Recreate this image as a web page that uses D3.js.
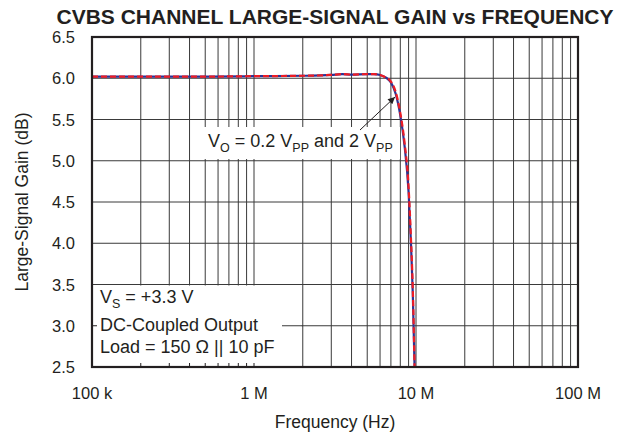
<!DOCTYPE html>
<html>
<head>
<meta charset="utf-8">
<script src="https://cdn.jsdelivr.net/npm/d3@7"></script>
<style>
  body { margin: 0; background: #fff; }
  text { font-family: "Liberation Sans", Arial, Helvetica, sans-serif; fill: #231f20; }
</style>
</head>
<body>
<div id="chart"></div>
<script>
// frequency in Hz, gain in dB
const freq = [1e5, 2e5, 5e5, 1e6, 2e6, 3e6, 3.5e6, 4e6, 5e6, 5.5e6, 6e6, 6.5e6, 7e6, 7.5e6, 8e6, 8.5e6, 9e6, 9.3e6, 9.55e6, 9.8e6];
const gain02 = [6.02, 6.02, 6.02, 6.025, 6.03, 6.04, 6.05, 6.045, 6.05, 6.05, 6.04, 6.01, 5.95, 5.81, 5.55, 5.18, 4.62, 4.02, 3.4, 2.5];
const gain2 = [6.02, 6.02, 6.02, 6.025, 6.03, 6.04, 6.05, 6.045, 6.05, 6.05, 6.04, 6.01, 5.96, 5.83, 5.58, 5.22, 4.68, 4.08, 3.46, 2.5];
const yTicks = [2.5, 3.0, 3.5, 4.0, 4.5, 5.0, 5.5, 6.0, 6.5];
const xTickVals = [1e5, 1e6, 1e7, 1e8];
const xTickLabels = ["100 k", "1 M", "10 M", "100 M"];

const W = 631, H = 433;
const m = {left: 92, right: 53, top: 37, bottom: 66};
const iw = W - m.left - m.right, ih = H - m.top - m.bottom;

const svg = d3.select("#chart").append("svg").attr("width", W).attr("height", H);

const x = d3.scaleLog().domain([1e5, 1e8]).range([0, iw]);
const y = d3.scaleLinear().domain([2.5, 6.5]).range([ih, 0]);

const g = svg.append("g").attr("transform", "translate(" + m.left + "," + m.top + ")");

// grid
const minor = [];
[1e5, 1e6, 1e7].forEach(function(d) { for (let k = 1; k <= 9; k++) minor.push(d * k); });
g.selectAll(".vg").data(minor.slice(1)).enter().append("line")
  .attr("x1", d => x(d)).attr("x2", d => x(d)).attr("y1", 0).attr("y2", ih)
  .attr("stroke", "#3a3a3a").attr("stroke-width", 1);
g.selectAll(".hg").data(yTicks.slice(1, -1)).enter().append("line")
  .attr("x1", 0).attr("x2", iw).attr("y1", d => y(d)).attr("y2", d => y(d))
  .attr("stroke", "#3a3a3a").attr("stroke-width", 1);

// condition box (white, covers grid up to the 2 M line)
g.append("rect").attr("x", 1).attr("y", y(3.5) + 1).attr("width", x(2e6) - 2).attr("height", ih - y(3.5) - 1).attr("fill", "#fff");
// small ticks that show through the box
g.selectAll(".bt").data(minor.filter(d => d > 1e5 && d < 2e6)).enter().append("line")
  .attr("x1", d => x(d)).attr("x2", d => x(d)).attr("y1", ih).attr("y2", ih - 4)
  .attr("stroke", "#231f20");
g.append("line").attr("x1", 0).attr("x2", 5).attr("y1", y(3.0)).attr("y2", y(3.0)).attr("stroke", "#231f20");
g.append("line").attr("x1", 190).attr("x2", x(2e6)).attr("y1", y(3.0)).attr("y2", y(3.0)).attr("stroke", "#3a3a3a");

const fs = 18, sub = 12.5;
const cond = g.append("text").attr("font-size", fs).attr("x", 8).attr("y", 303 - m.top);
cond.append("tspan").text("V");
cond.append("tspan").attr("font-size", sub).attr("dy", 5).text("S");
cond.append("tspan").attr("dy", -5).text(" = +3.3 V");
g.append("text").attr("font-size", fs).attr("x", 8).attr("y", 331 - m.top).text("DC-Coupled Output");
g.append("text").attr("font-size", fs).attr("x", 8).attr("y", 353 - m.top).text("Load = 150 \u03A9 || 10 pF");

// annotation box
g.append("rect").attr("x", 112).attr("y", 90).attr("width", 196).attr("height", 32).attr("fill", "#fff");
const ann = g.append("text").attr("font-size", fs).attr("x", 116).attr("y", 147 - m.top);
ann.append("tspan").text("V");
ann.append("tspan").attr("font-size", sub).attr("dy", 5).text("O");
ann.append("tspan").attr("dy", -5).text(" = 0.2 V");
ann.append("tspan").attr("font-size", sub).attr("dy", 5).text("PP");
ann.append("tspan").attr("dy", -5).text(" and 2 V");
ann.append("tspan").attr("font-size", sub).attr("dy", 5).text("PP");

// arrow
svg.append("defs").append("marker").attr("id", "ah").attr("viewBox", "0 0 10 10")
  .attr("refX", 10).attr("refY", 5).attr("markerWidth", 13).attr("markerHeight", 7)
  .attr("markerUnits", "userSpaceOnUse").attr("orient", "auto")
  .append("path").attr("d", "M0,0 L10,5 L0,10 z").attr("fill", "#231f20");
g.append("line").attr("x1", 268).attr("y1", 93).attr("x2", 303).attr("y2", 60)
  .attr("stroke", "#231f20").attr("stroke-width", 1).attr("marker-end", "url(#ah)");

// curves
const line = d3.line().x((d, i) => x(freq[i])).y(d => y(d)).curve(d3.curveMonotoneX);
g.append("path").attr("d", line(gain02)).attr("fill", "none").attr("stroke", "#2e3192").attr("stroke-width", 2.2);
g.append("path").attr("d", line(gain2)).attr("fill", "none").attr("stroke", "#ed1c24").attr("stroke-width", 2.2)
  .attr("stroke-dasharray", "6,3");

// frame
g.append("rect").attr("x", 0).attr("y", 0).attr("width", iw).attr("height", ih)
  .attr("fill", "none").attr("stroke", "#231f20").attr("stroke-width", 2.2);

// axes labels
g.selectAll(".yl").data(yTicks).enter().append("text")
  .attr("x", -17).attr("y", d => y(d) + 6).attr("text-anchor", "end").attr("font-size", 16.5)
  .text(d => d.toFixed(1));
g.selectAll(".xl").data(xTickVals).enter().append("text")
  .attr("x", d => x(d)).attr("y", ih + 32).attr("text-anchor", "middle").attr("font-size", 16.5)
  .text((d, i) => xTickLabels[i]);

svg.append("text").attr("x", 335).attr("y", 428).attr("text-anchor", "middle")
  .attr("font-size", 17.5).text("Frequency (Hz)");
svg.append("text").attr("transform", "translate(28," + (m.top + ih / 2) + ") rotate(-90)")
  .attr("text-anchor", "middle").attr("font-size", 17.5).text("Large-Signal Gain (dB)");
svg.append("text").attr("x", 335).attr("y", 24).attr("text-anchor", "middle")
  .attr("font-size", 21).attr("font-weight", "bold").text("CVBS CHANNEL LARGE-SIGNAL GAIN vs FREQUENCY");
</script>
</body>
</html>
